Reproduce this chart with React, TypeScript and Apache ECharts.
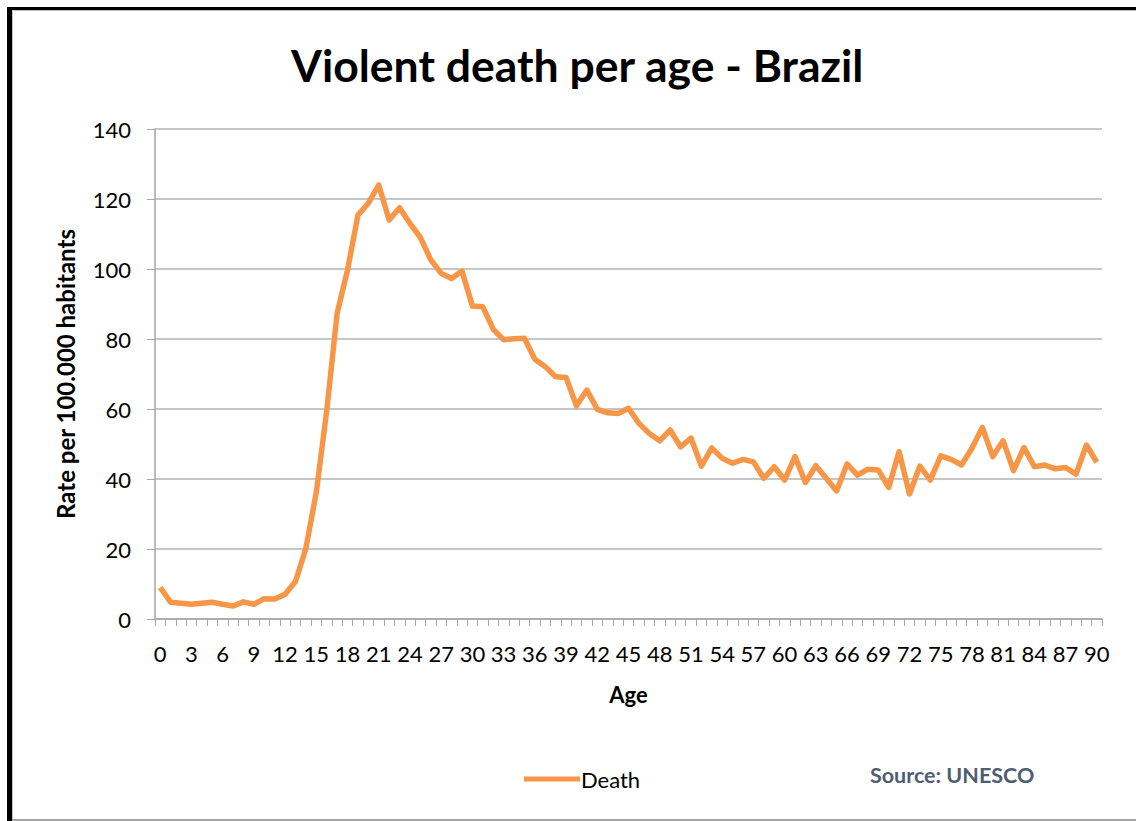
import React, { useEffect, useRef } from "react";
import * as echarts from "echarts";

const titleText = "Violent death per age - Brazil";
const seriesName = "Death";
const sourceText = "Source: UNESCO";
const xAxisTitle = "Age";
const yAxisTitle = "Rate per 100.000 habitants";

const ages: string[] = [];
for (let a = 0; a <= 90; a++) ages.push(String(a));

const deathRate: number[] = [
  9.0, 4.8, 4.5, 4.2, 4.5, 4.8, 4.2, 3.7, 4.9, 4.2,
  5.8, 5.7, 7.1, 10.7, 20.2, 36.2, 59.5, 87.3, 99.7, 115.4,
  118.8, 124.0, 114.0, 117.5, 113.0, 109.0, 102.6, 98.8, 97.3, 99.4,
  89.4, 89.2, 82.8, 79.8, 80.1, 80.2, 74.2, 72.1, 69.2, 69.0,
  60.9, 65.4, 59.9, 58.9, 58.7, 60.2, 55.9, 53.0, 50.9, 54.0,
  49.2, 51.7, 43.7, 48.9, 45.9, 44.5, 45.6, 44.9, 40.2, 43.5,
  39.7, 46.4, 39.0, 43.8, 40.2, 36.6, 44.3, 41.1, 42.8, 42.6,
  37.6, 47.8, 35.7, 43.7, 39.7, 46.6, 45.6, 44.0, 48.8, 54.7,
  46.4, 50.9, 42.4, 49.0, 43.5, 44.0, 42.9, 43.3, 41.4, 49.7,
  44.8,
];

const yTicks = { min: 0, max: 140, interval: 20 };

const FONT = "Lato, 'Noto Sans', sans-serif";
const ORANGE = "#f79646";

export default function App() {
  const ref = useRef<HTMLDivElement>(null);
  useEffect(() => {
    if (!ref.current) return;
    const chart = echarts.init(ref.current, undefined, { renderer: "svg" });
    chart.setOption({
      animation: false,
      backgroundColor: "#ffffff",
      textStyle: { fontFamily: FONT },
      title: {
        text: titleText,
        left: 286,
        top: 37,
        textStyle: { fontSize: 44.5, fontWeight: "bold", color: "#000", fontFamily: FONT },
      },
      grid: { left: 155, right: 34, top: 129, bottom: 202, containLabel: false },
      legend: {
        left: 519,
        top: 763,
        itemWidth: 56,
        itemHeight: 14,
        itemGap: 4,
        textStyle: { fontSize: 22, color: "#000", fontFamily: FONT, padding: [0, 0, 0, -4] },
        data: [{ name: seriesName, icon: "path://M0,5.5 L56,5.5 L56,10.5 L0,10.5 Z" }],
      },
      xAxis: {
        type: "category",
        data: ages,
        boundaryGap: true,
        name: xAxisTitle,
        nameLocation: "middle",
        nameGap: 64,
        nameTextStyle: { fontSize: 22, fontWeight: "bold", color: "#000", fontFamily: FONT },
        axisLine: { show: true, lineStyle: { color: "#a6a6a6", width: 1.5 } },
        axisTick: { show: true, interval: 0, length: 7, inside: false, lineStyle: { color: "#a6a6a6" } },
        axisLabel: { interval: 2, fontSize: 22, color: "#000", margin: 23, fontFamily: FONT },
        splitLine: { show: false },
      },
      yAxis: {
        type: "value",
        min: yTicks.min,
        max: yTicks.max,
        interval: yTicks.interval,
        name: yAxisTitle,
        nameLocation: "middle",
        nameRotate: 90,
        nameGap: 78,
        nameTextStyle: { fontSize: 24, fontWeight: "bold", color: "#000", fontFamily: FONT },
        axisLine: { show: true, lineStyle: { color: "#a6a6a6", width: 1.5 } },
        axisTick: { show: true, length: 8, inside: false, lineStyle: { color: "#a6a6a6" } },
        axisLabel: { fontSize: 22, color: "#000", margin: 24, fontFamily: FONT },
        splitLine: { show: true, lineStyle: { color: "#b3b3b3", width: 1.5 } },
      },
      series: [
        {
          name: seriesName,
          type: "line",
          data: deathRate,
          symbol: "none",
          showSymbol: false,
          lineStyle: { color: ORANGE, width: 5.5, join: "round" },
          itemStyle: { color: ORANGE },
        },
      ],
      graphic: [
        {
          type: "text",
          left: 870,
          top: 764,
          style: {
            text: sourceText,
            fontSize: 21.5,
            fontWeight: "bold",
            fill: "#4f5d73",
            fontFamily: FONT,
          },
        },
        { type: "rect", shape: { x: 7, y: 7, width: 5, height: 814 }, style: { fill: "#000" } },
        { type: "rect", shape: { x: 7, y: 7, width: 1129, height: 3 }, style: { fill: "#000" } },
        { type: "rect", shape: { x: 12, y: 10, width: 1, height: 811 }, style: { fill: "#bfbfbf" } },
        { type: "rect", shape: { x: 12, y: 10, width: 1124, height: 1 }, style: { fill: "#bfbfbf" } },
        { type: "rect", shape: { x: 12, y: 819, width: 1124, height: 2 }, style: { fill: "#a6a6a6" } },
      ],
    });
    return () => chart.dispose();
  }, []);
  return (
    <div
      ref={ref}
      style={{ position: "fixed", left: 0, top: 0, width: 1136, height: 821 }}
    />
  );
}
